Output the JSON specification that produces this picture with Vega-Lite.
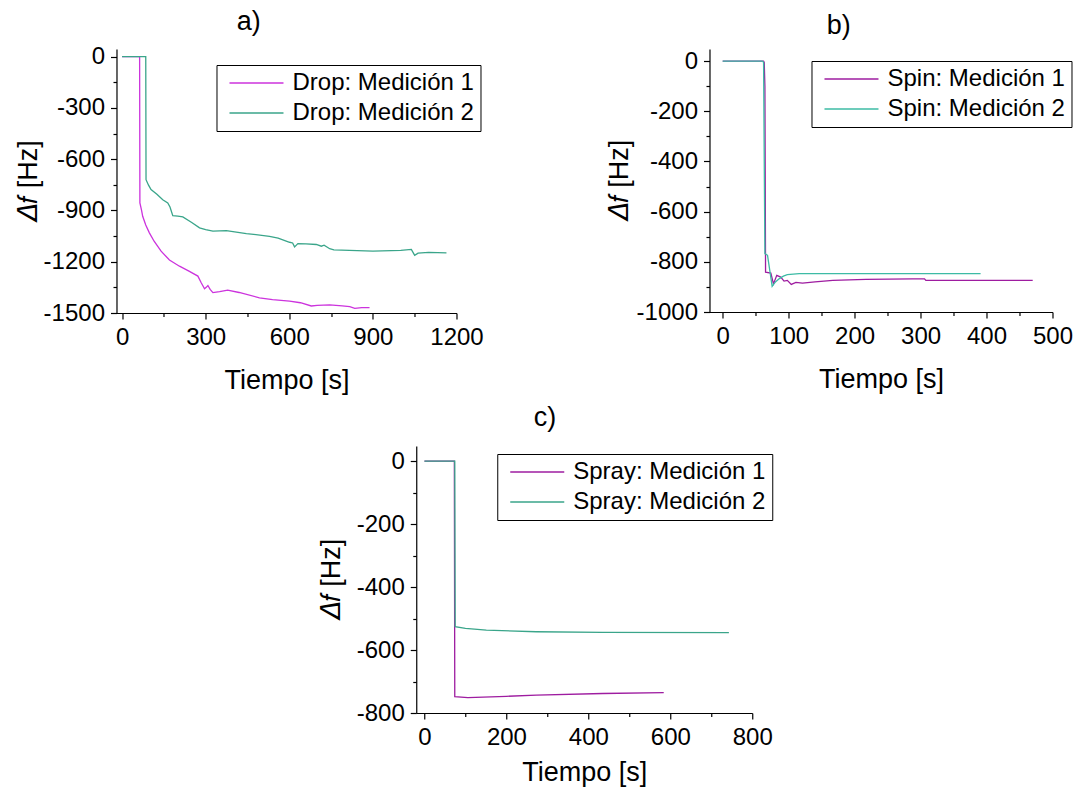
{
  "$schema": "https://vega.github.io/schema/vega-lite/v6.json",
  "padding": {"left": 14, "top": 7, "right": 5, "bottom": 5},
  "background": "white",
  "center": true,
  "spacing": 11,
  "resolve": {"scale": {"color": "independent"}, "legend": {"color": "independent"}},
  "datasets": {
    "drop": [
      {"series": "Drop: Medición 1", "t": 0, "v": 0}, {"series": "Drop: Medición 1", "t": 63, "v": 0},
      {"series": "Drop: Medición 1", "t": 64, "v": -856}, {"series": "Drop: Medición 1", "t": 70, "v": -900},
      {"series": "Drop: Medición 1", "t": 74, "v": -934}, {"series": "Drop: Medición 1", "t": 85, "v": -985},
      {"series": "Drop: Medición 1", "t": 98, "v": -1031}, {"series": "Drop: Medición 1", "t": 115, "v": -1080},
      {"series": "Drop: Medición 1", "t": 140, "v": -1138}, {"series": "Drop: Medición 1", "t": 170, "v": -1190},
      {"series": "Drop: Medición 1", "t": 206, "v": -1226}, {"series": "Drop: Medición 1", "t": 240, "v": -1255},
      {"series": "Drop: Medición 1", "t": 272, "v": -1284}, {"series": "Drop: Medición 1", "t": 284, "v": -1323},
      {"series": "Drop: Medición 1", "t": 296, "v": -1358}, {"series": "Drop: Medición 1", "t": 302, "v": -1350},
      {"series": "Drop: Medición 1", "t": 308, "v": -1339}, {"series": "Drop: Medición 1", "t": 316, "v": -1362},
      {"series": "Drop: Medición 1", "t": 326, "v": -1381}, {"series": "Drop: Medición 1", "t": 350, "v": -1375},
      {"series": "Drop: Medición 1", "t": 379, "v": -1366}, {"series": "Drop: Medición 1", "t": 420, "v": -1380},
      {"series": "Drop: Medición 1", "t": 493, "v": -1411}, {"series": "Drop: Medición 1", "t": 540, "v": -1422},
      {"series": "Drop: Medición 1", "t": 601, "v": -1430}, {"series": "Drop: Medición 1", "t": 640, "v": -1440},
      {"series": "Drop: Medición 1", "t": 679, "v": -1459}, {"series": "Drop: Medición 1", "t": 700, "v": -1455},
      {"series": "Drop: Medición 1", "t": 745, "v": -1453}, {"series": "Drop: Medición 1", "t": 790, "v": -1458},
      {"series": "Drop: Medición 1", "t": 817, "v": -1463}, {"series": "Drop: Medición 1", "t": 835, "v": -1473},
      {"series": "Drop: Medición 1", "t": 860, "v": -1468}, {"series": "Drop: Medición 1", "t": 888, "v": -1469},
      {"series": "Drop: Medición 2", "t": 0, "v": 0}, {"series": "Drop: Medición 2", "t": 85, "v": 0},
      {"series": "Drop: Medición 2", "t": 86, "v": -720}, {"series": "Drop: Medición 2", "t": 95, "v": -752},
      {"series": "Drop: Medición 2", "t": 104, "v": -778}, {"series": "Drop: Medición 2", "t": 125, "v": -805},
      {"series": "Drop: Medición 2", "t": 146, "v": -837}, {"series": "Drop: Medición 2", "t": 164, "v": -856},
      {"series": "Drop: Medición 2", "t": 172, "v": -880}, {"series": "Drop: Medición 2", "t": 182, "v": -930},
      {"series": "Drop: Medición 2", "t": 200, "v": -933}, {"series": "Drop: Medición 2", "t": 218, "v": -938},
      {"series": "Drop: Medición 2", "t": 250, "v": -970}, {"series": "Drop: Medición 2", "t": 278, "v": -1002},
      {"series": "Drop: Medición 2", "t": 300, "v": -1012}, {"series": "Drop: Medición 2", "t": 326, "v": -1021},
      {"series": "Drop: Medición 2", "t": 374, "v": -1018}, {"series": "Drop: Medición 2", "t": 446, "v": -1035},
      {"series": "Drop: Medición 2", "t": 529, "v": -1051}, {"series": "Drop: Medición 2", "t": 560, "v": -1062},
      {"series": "Drop: Medición 2", "t": 601, "v": -1086}, {"series": "Drop: Medición 2", "t": 612, "v": -1090},
      {"series": "Drop: Medición 2", "t": 619, "v": -1113}, {"series": "Drop: Medición 2", "t": 631, "v": -1094},
      {"series": "Drop: Medición 2", "t": 660, "v": -1095}, {"series": "Drop: Medición 2", "t": 697, "v": -1099},
      {"series": "Drop: Medición 2", "t": 715, "v": -1109}, {"series": "Drop: Medición 2", "t": 725, "v": -1103},
      {"series": "Drop: Medición 2", "t": 745, "v": -1124}, {"series": "Drop: Medición 2", "t": 760, "v": -1130},
      {"series": "Drop: Medición 2", "t": 900, "v": -1138}, {"series": "Drop: Medición 2", "t": 1000, "v": -1133},
      {"series": "Drop: Medición 2", "t": 1038, "v": -1128}, {"series": "Drop: Medición 2", "t": 1050, "v": -1163},
      {"series": "Drop: Medición 2", "t": 1062, "v": -1150}, {"series": "Drop: Medición 2", "t": 1100, "v": -1145},
      {"series": "Drop: Medición 2", "t": 1164, "v": -1148}
    ],
    "spin": [
      {"series": "Spin: Medición 1", "t": 0, "v": 0}, {"series": "Spin: Medición 1", "t": 62, "v": 0},
      {"series": "Spin: Medición 1", "t": 63, "v": -5}, {"series": "Spin: Medición 1", "t": 64, "v": -100},
      {"series": "Spin: Medición 1", "t": 65, "v": -841}, {"series": "Spin: Medición 1", "t": 73, "v": -845},
      {"series": "Spin: Medición 1", "t": 77, "v": -888}, {"series": "Spin: Medición 1", "t": 82, "v": -854},
      {"series": "Spin: Medición 1", "t": 88, "v": -861}, {"series": "Spin: Medición 1", "t": 93, "v": -877},
      {"series": "Spin: Medición 1", "t": 98, "v": -874}, {"series": "Spin: Medición 1", "t": 104, "v": -890},
      {"series": "Spin: Medición 1", "t": 111, "v": -882}, {"series": "Spin: Medición 1", "t": 121, "v": -885},
      {"series": "Spin: Medición 1", "t": 140, "v": -880}, {"series": "Spin: Medición 1", "t": 167, "v": -874},
      {"series": "Spin: Medición 1", "t": 217, "v": -870}, {"series": "Spin: Medición 1", "t": 288, "v": -868},
      {"series": "Spin: Medición 1", "t": 306, "v": -868}, {"series": "Spin: Medición 1", "t": 308, "v": -874},
      {"series": "Spin: Medición 1", "t": 470, "v": -874},
      {"series": "Spin: Medición 2", "t": 0, "v": 0}, {"series": "Spin: Medición 2", "t": 60, "v": 0},
      {"series": "Spin: Medición 2", "t": 62, "v": -5}, {"series": "Spin: Medición 2", "t": 64, "v": -767},
      {"series": "Spin: Medición 2", "t": 68, "v": -774}, {"series": "Spin: Medición 2", "t": 75, "v": -898},
      {"series": "Spin: Medición 2", "t": 80, "v": -880}, {"series": "Spin: Medición 2", "t": 86, "v": -867},
      {"series": "Spin: Medición 2", "t": 92, "v": -857}, {"series": "Spin: Medición 2", "t": 98, "v": -851},
      {"series": "Spin: Medición 2", "t": 116, "v": -847}, {"series": "Spin: Medición 2", "t": 391, "v": -847}
    ],
    "spray": [
      {"series": "Spray: Medición 1", "t": 0, "v": 0}, {"series": "Spray: Medición 1", "t": 73, "v": 0},
      {"series": "Spray: Medición 1", "t": 74, "v": -748}, {"series": "Spray: Medición 1", "t": 106, "v": -751},
      {"series": "Spray: Medición 1", "t": 200, "v": -747}, {"series": "Spray: Medición 1", "t": 273, "v": -743},
      {"series": "Spray: Medición 1", "t": 435, "v": -738}, {"series": "Spray: Medición 1", "t": 584, "v": -735},
      {"series": "Spray: Medición 2", "t": 0, "v": 0}, {"series": "Spray: Medición 2", "t": 74, "v": 0},
      {"series": "Spray: Medición 2", "t": 75, "v": -526}, {"series": "Spray: Medición 2", "t": 100, "v": -531},
      {"series": "Spray: Medición 2", "t": 151, "v": -537}, {"series": "Spray: Medición 2", "t": 273, "v": -542},
      {"series": "Spray: Medición 2", "t": 435, "v": -544}, {"series": "Spray: Medición 2", "t": 743, "v": -545}
    ]
  },
  "vconcat": [
    {
      "bounds": "flush",
      "spacing": 253,
      "resolve": {"scale": {"color": "independent"}, "legend": {"color": "independent"}},
      "hconcat": [
        {
          "width": 340, "height": 264,
          "title": {"text": "a)"},
          "data": {"name": "drop"},
          "mark": {"type": "line", "strokeWidth": 1.3},
          "encoding": {
            "x": {"field": "t", "type": "quantitative", "title": "Tiempo [s]",
              "scale": {"domain": [-20, 1200], "nice": false, "zero": false},
              "axis": {"titlePadding": 18, "values": [0, 150, 300, 450, 600, 750, 900, 1050, 1200],
                "labelExpr": "datum.value % 300 === 0 ? '' + datum.value : ''",
                "tickSize": {"condition": {"test": "datum.value % 300 === 0", "value": 6}, "value": 3.5}}},
            "y": {"field": "v", "type": "quantitative", "title": "𝛥𝑓 [Hz]",
              "scale": {"domain": [-1500, 45], "nice": false, "zero": false},
              "axis": {"titlePadding": 1, "values": [-1500, -1350, -1200, -1050, -900, -750, -600, -450, -300, -150, 0],
                "labelExpr": "datum.value % 300 === 0 ? '' + datum.value : ''",
                "tickSize": {"condition": {"test": "datum.value % 300 === 0", "value": 6}, "value": 3.5}}},
            "color": {"field": "series", "type": "nominal",
              "scale": {"domain": ["Drop: Medición 1", "Drop: Medición 2"], "range": ["#CC33DD", "#3AA58A"]},
              "legend": {"legendX": 100, "legendY": 16}}
          }
        },
        {
          "width": 343, "height": 263,
          "title": {"text": "b)"},
          "data": {"name": "spin"},
          "mark": {"type": "line", "strokeWidth": 1.3},
          "encoding": {
            "x": {"field": "t", "type": "quantitative", "title": "Tiempo [s]",
              "scale": {"domain": [-20, 500], "nice": false, "zero": false},
              "axis": {"titlePadding": 18, "values": [0, 50, 100, 150, 200, 250, 300, 350, 400, 450, 500],
                "labelExpr": "datum.value % 100 === 0 ? '' + datum.value : ''",
                "tickSize": {"condition": {"test": "datum.value % 100 === 0", "value": 6}, "value": 3.5}}},
            "y": {"field": "v", "type": "quantitative", "title": "𝛥𝑓 [Hz]",
              "scale": {"domain": [-1000, 48], "nice": false, "zero": false},
              "axis": {"titlePadding": 3, "values": [-1000, -900, -800, -700, -600, -500, -400, -300, -200, -100, 0],
                "labelExpr": "datum.value % 200 === 0 ? '' + datum.value : ''",
                "tickSize": {"condition": {"test": "datum.value % 200 === 0", "value": 6}, "value": 3.5}}},
            "color": {"field": "series", "type": "nominal",
              "scale": {"domain": ["Spin: Medición 1", "Spin: Medición 2"], "range": ["#9E1CA0", "#3DBBA5"]},
              "legend": {"legendX": 102, "legendY": 12}}
          }
        }
      ]
    },
    {
      "width": 336, "height": 267,
      "title": {"text": "c)", "offset": 14},
      "data": {"name": "spray"},
      "mark": {"type": "line", "strokeWidth": 1.3},
      "encoding": {
        "x": {"field": "t", "type": "quantitative", "title": "Tiempo [s]",
          "scale": {"domain": [-20, 800], "nice": false, "zero": false},
          "axis": {"titlePadding": 10, "values": [0, 100, 200, 300, 400, 500, 600, 700, 800],
            "labelExpr": "datum.value % 200 === 0 ? '' + datum.value : ''",
            "tickSize": {"condition": {"test": "datum.value % 200 === 0", "value": 6}, "value": 3.5}}},
        "y": {"field": "v", "type": "quantitative", "title": "𝛥𝑓 [Hz]",
          "scale": {"domain": [-800, 48], "nice": false, "zero": false},
          "axis": {"titlePadding": 11, "values": [-800, -700, -600, -500, -400, -300, -200, -100, 0],
            "labelExpr": "datum.value % 200 === 0 ? '' + datum.value : ''",
            "tickSize": {"condition": {"test": "datum.value % 200 === 0", "value": 6}, "value": 3.5}}},
        "color": {"field": "series", "type": "nominal",
          "scale": {"domain": ["Spray: Medición 1", "Spray: Medición 2"], "range": ["#9E1CA0", "#3AA58A"]},
          "legend": {"legendX": 81, "legendY": 8}}
      }
    }
  ],
  "config": {
    "font": "Liberation Sans",
    "view": {"stroke": null},
    "axis": {
      "grid": false, "domainColor": "black", "domainWidth": 1.2, "tickColor": "black", "tickWidth": 1.2,
      "labelColor": "black", "titleColor": "black", "labelFont": "Liberation Sans", "titleFont": "Liberation Sans",
      "labelFontSize": 24, "titleFontSize": 27, "titleFontWeight": "normal",
      "labelOverlap": false, "labelFlush": false, "labelPadding": 6
    },
    "legend": {
      "orient": "none", "title": null, "labelFontSize": 24, "labelFont": "Liberation Sans", "labelColor": "black",
      "labelLimit": 400, "strokeColor": "black", "padding": 6, "rowPadding": 6,
      "symbolType": "M-1,0L9.8,0", "symbolSize": 100, "symbolStrokeWidth": 1.5, "symbolOffset": 0, "labelOffset": 46
    },
    "title": {"fontSize": 27, "fontWeight": "normal", "font": "Liberation Sans", "color": "black", "frame": "bounds", "anchor": "middle", "offset": 9}
  }
}
